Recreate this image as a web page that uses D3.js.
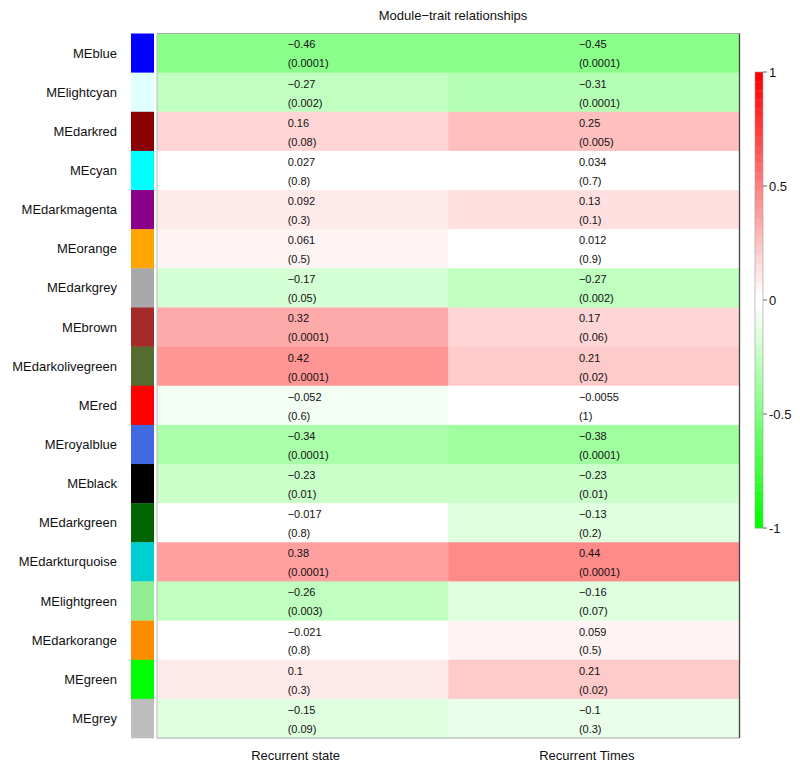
<!DOCTYPE html>
<html><head><meta charset="utf-8">
<script src="https://cdn.jsdelivr.net/npm/d3@7"></script>
<style>body{margin:0;background:#fff}svg{display:block}text{font-family:"Liberation Sans",Arial,sans-serif;fill:#111}</style>
</head><body><svg id="c" width="800" height="767"></svg>
<script>
const modules = ["MEblue","MElightcyan","MEdarkred","MEcyan","MEdarkmagenta","MEorange","MEdarkgrey","MEbrown","MEdarkolivegreen","MEred","MEroyalblue","MEblack","MEdarkgreen","MEdarkturquoise","MElightgreen","MEdarkorange","MEgreen","MEgrey"];
const moduleColors = ["#0000FF","#E0FFFF","#8B0000","#00FFFF","#8B008B","#FFA500","#A9A9A9","#A52A2A","#556B2F","#FF0000","#4169E1","#000000","#006400","#00CED1","#90EE90","#FF8C00","#00FF00","#BEBEBE"];
const traits = ["Recurrent state","Recurrent Times"];
const corState = [-0.46,-0.27,0.16,0.027,0.092,0.061,-0.17,0.32,0.42,-0.052,-0.34,-0.23,-0.017,0.38,-0.26,-0.021,0.1,-0.15];
const pState = ["0.0001","0.002","0.08","0.8","0.3","0.5","0.05","0.0001","0.0001","0.6","0.0001","0.01","0.8","0.0001","0.003","0.8","0.3","0.09"];
const corTimes = [-0.45,-0.31,0.25,0.034,0.13,0.012,-0.27,0.17,0.21,-0.0055,-0.38,-0.23,-0.13,0.44,-0.16,0.059,0.21,-0.1];
const pTimes = ["0.0001","0.0001","0.005","0.7","0.1","0.9","0.002","0.06","0.02","1","0.0001","0.01","0.2","0.0001","0.07","0.5","0.02","0.3"];
const legendTicks = [1,0.5,0,-0.5,-1];
const title = "Module\u2212trait relationships";

// greenWhiteRed(50) palette, as in WGCNA
const nCol = 50, half = 25;
const palette = d3.range(nCol).map(b => {
  if (b < half) { const t = b/(half-1); return d3.rgb(255*t, 255, 255*t).formatHex(); }
  const s = (b-half)/(half-1); return d3.rgb(255, 255*(1-s), 255*(1-s)).formatHex();
});

const svg = d3.select("#c");
const x = d3.scaleBand().domain(traits).range([157,739.5]);
const y = d3.scaleBand().domain(modules).range([33.5,738]);
const color = d3.scaleQuantize().domain([-1,1]).range(palette);
const fmt = v => (v<0?"\u2212":"") + String(Math.abs(v));

const cells = [];
modules.forEach((m,i)=>{
  cells.push({m, t:traits[0], r:corState[i], p:pState[i]});
  cells.push({m, t:traits[1], r:corTimes[i], p:pTimes[i]});
});

svg.append("g").selectAll("rect").data(cells).join("rect")
  .attr("x",d=>x(d.t)).attr("y",d=>y(d.m))
  .attr("width",x.bandwidth()+0.5).attr("height",y.bandwidth()+0.5)
  .attr("fill",d=>color(d.r));

// frame
svg.append("line").attr("x1",157).attr("x2",157).attr("y1",33.5).attr("y2",738).attr("stroke","#bbb");
svg.append("line").attr("x1",157).attr("x2",739.5).attr("y1",33.5).attr("y2",33.5).attr("stroke","#aaa");
svg.append("line").attr("x1",157).attr("x2",739.5).attr("y1",738).attr("y2",738).attr("stroke","#aaa");
svg.append("line").attr("x1",739.5).attr("x2",739.5).attr("y1",33.5).attr("y2",738).attr("stroke","#444").attr("stroke-width",1.3);

const tg = svg.append("g").selectAll("g").data(cells).join("g")
  .attr("transform",d=>`translate(${x(d.t)+x.bandwidth()/2-15},${y(d.m)+y.bandwidth()/2})`);
tg.append("text").attr("y",-8.5).attr("dy","0.35em").attr("font-size",11).text(d=>fmt(d.r));
tg.append("text").attr("y",10.5).attr("dy","0.35em").attr("font-size",11).text(d=>"("+d.p+")");

// module color strips
svg.append("g").selectAll("rect").data(modules).join("rect")
  .attr("x",131).attr("y",d=>y(d)).attr("width",23).attr("height",y.bandwidth()+0.3)
  .attr("fill",(d,i)=>moduleColors[i]);

// row labels
svg.append("g").selectAll("text").data(modules).join("text")
  .attr("x",117).attr("y",d=>y(d)+y.bandwidth()/2).attr("dy","0.35em")
  .attr("text-anchor","end").attr("font-size",13).text(d=>d);

// column labels
svg.append("g").selectAll("text").data(traits).join("text")
  .attr("x",d=>x(d)+x.bandwidth()/2-7).attr("y",755).attr("dy","0.35em")
  .attr("text-anchor","middle").attr("font-size",13).text(d=>d);

// title
svg.append("text").attr("x",453).attr("y",15).attr("dy","0.35em").attr("text-anchor","middle")
  .attr("font-size",13).text(title);

// legend
const ly = d3.scaleLinear().domain([1,-1]).range([72,528]);
const steps = d3.range(nCol).map(b => -1 + (b+0.5)*2/nCol);
svg.append("g").selectAll("rect").data(steps).join("rect")
  .attr("x",755).attr("width",8)
  .attr("y",d=>ly(d+1/nCol)).attr("height",ly(0)-ly(2/nCol)+0.3)
  .attr("fill",d=>color(d));
svg.append("rect").attr("x",755).attr("y",ly(1)).attr("width",8).attr("height",ly(-1)-ly(1))
  .attr("fill","none").attr("stroke","#999").attr("stroke-width",0.6);
const lt = svg.append("g").selectAll("g").data(legendTicks).join("g").attr("transform",d=>`translate(763,${ly(d)})`);
lt.append("line").attr("x1",0).attr("x2",4).attr("stroke","#666");
lt.append("text").attr("x",6).attr("dy","0.35em").attr("font-size",13).text(d=>String(d));
</script></body></html>
